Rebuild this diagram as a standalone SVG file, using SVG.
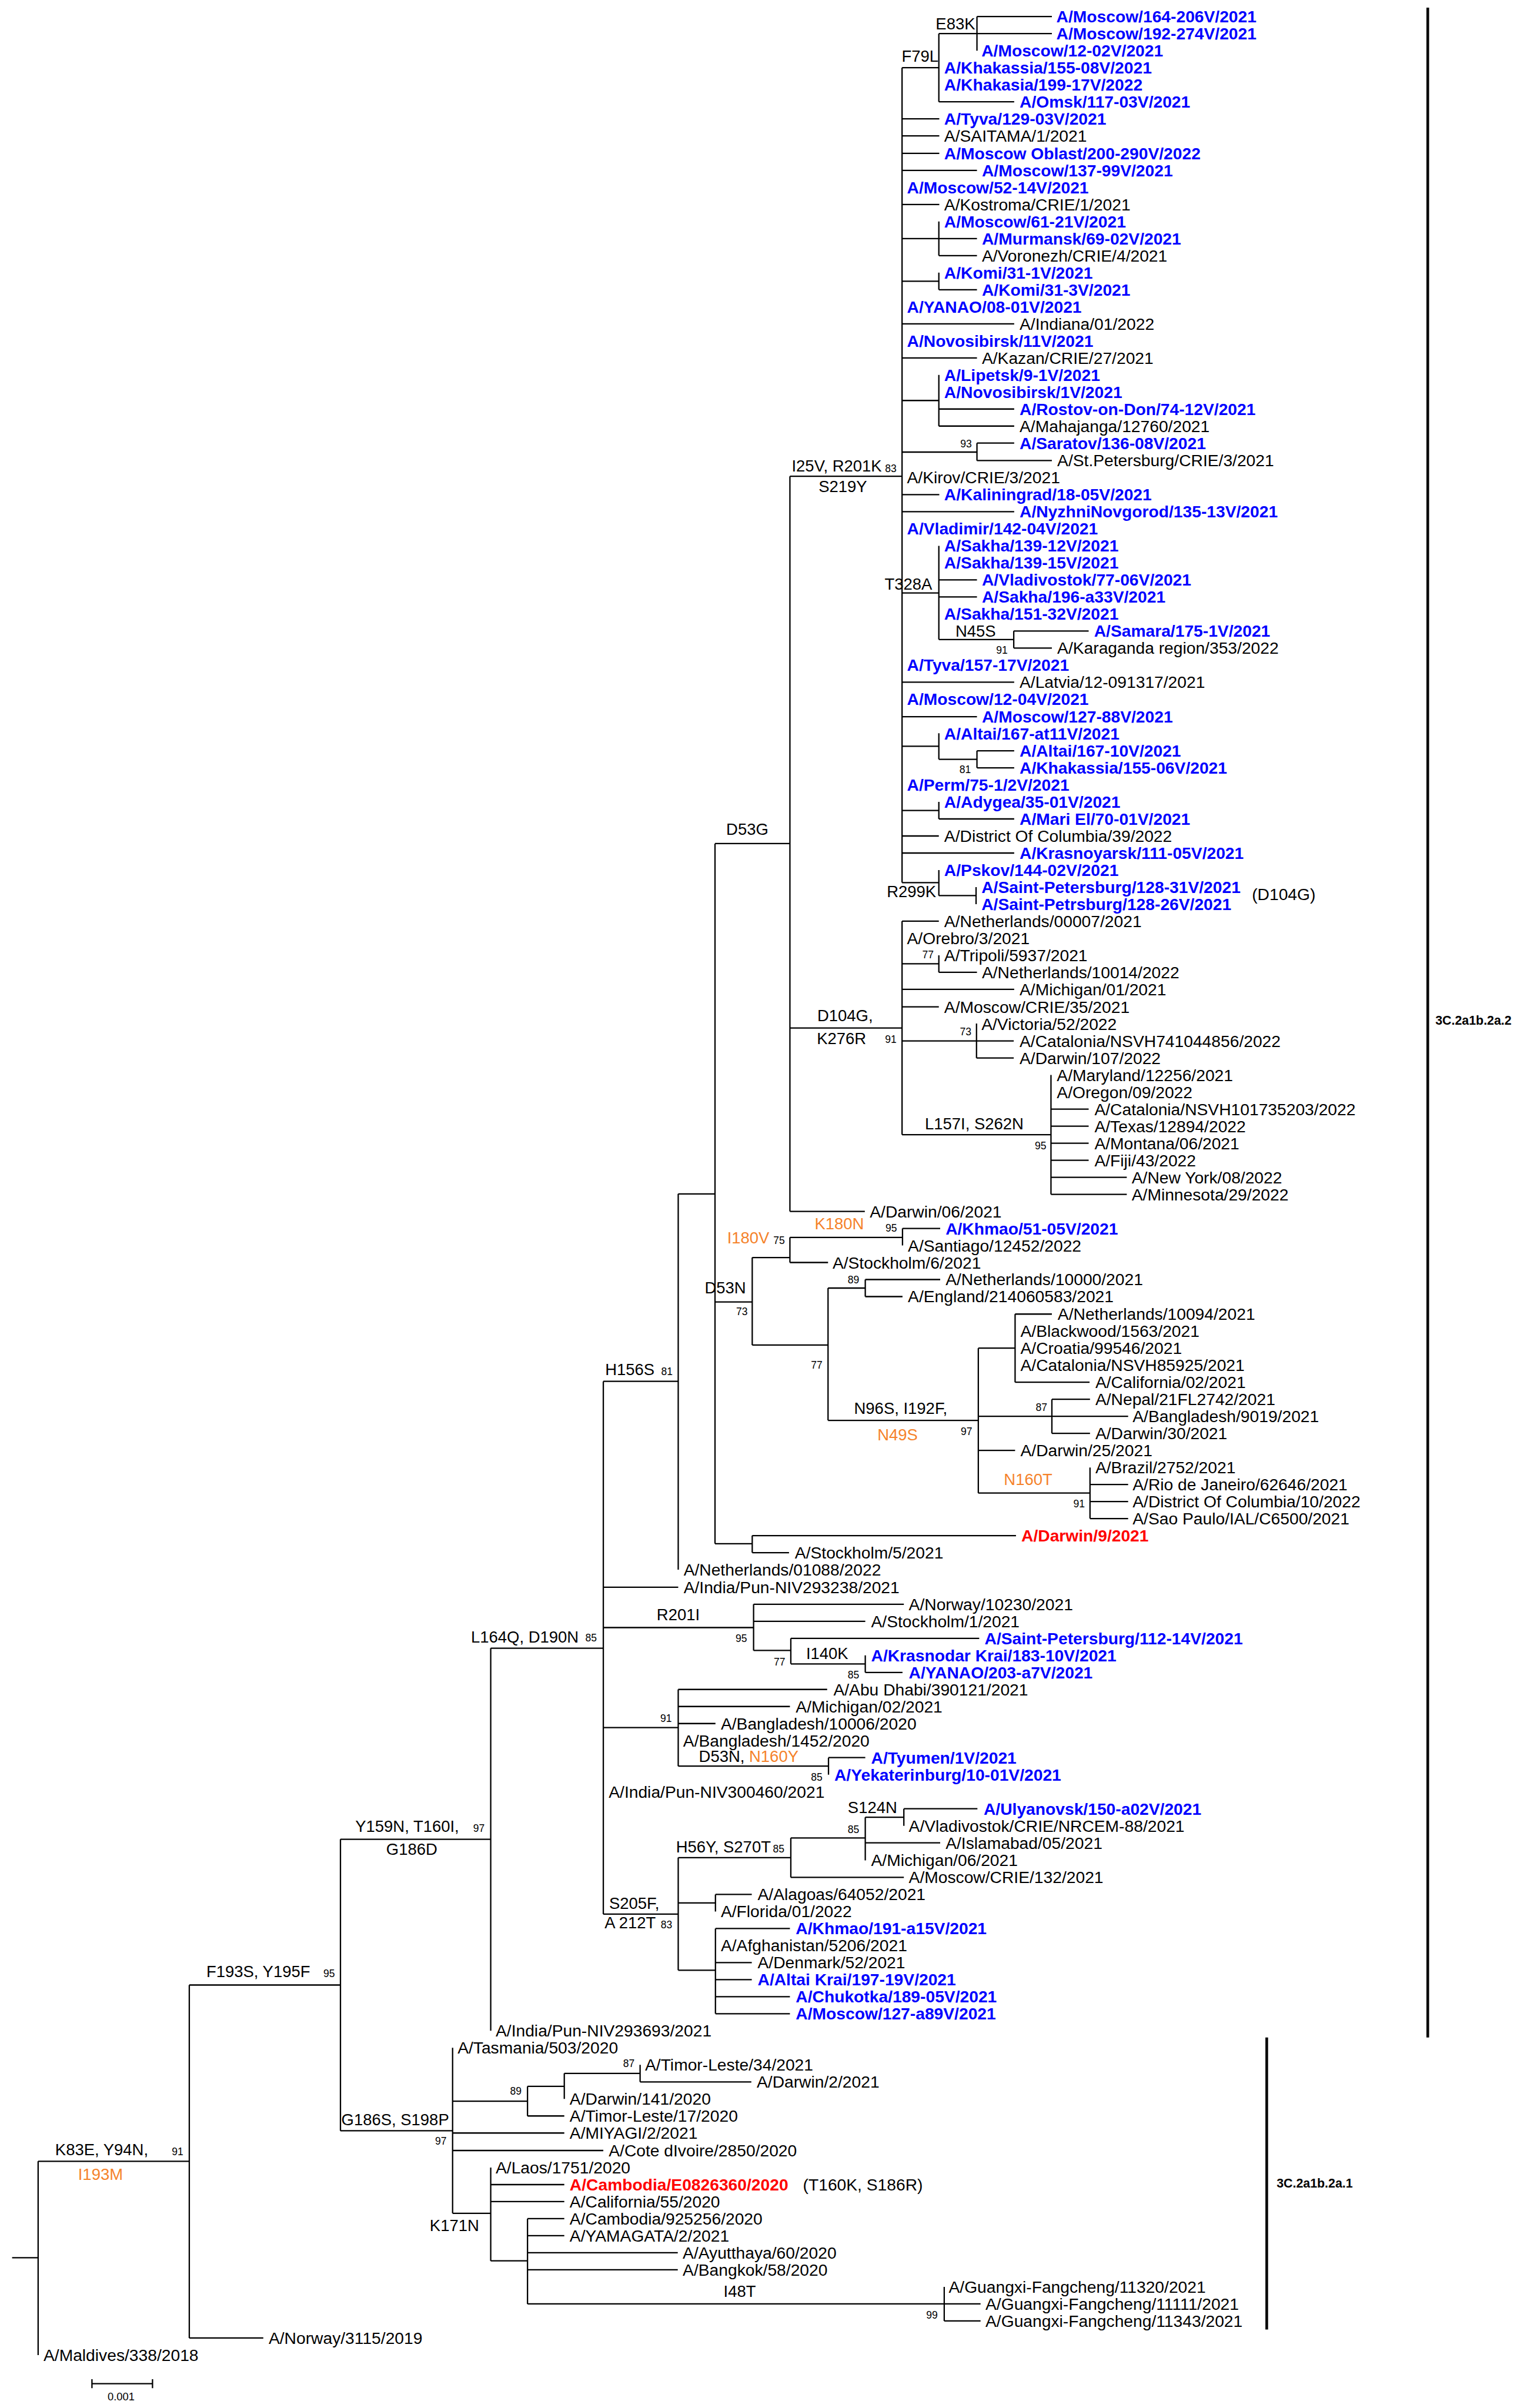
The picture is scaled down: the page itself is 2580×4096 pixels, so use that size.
<svg xmlns="http://www.w3.org/2000/svg" width="2580" height="4096" viewBox="0 0 2580 4096">
<style>
text{font-family:"Liberation Sans",Arial,sans-serif;fill:#000}
.l{font-size:37px;dominant-baseline:central}
.b{fill:#0000ff;font-weight:bold}
.r{fill:#ff0000;font-weight:bold}
.m{font-size:36px}
.o{fill:#f5822a}
.s{font-size:23px}
.c{font-size:28px;font-weight:bold;dominant-baseline:central}
.e{fill:none;stroke:#000;stroke-width:3}
.k{fill:none;stroke:#000;stroke-width:6}
</style>
<rect width="2580" height="4096" fill="#fff"/>
<g transform="scale(0.76288)">
<g id="connectors" class="e">
<path d="M27 5034H85M85 4819V5251M85 4819H422M422 4426V5213M422 4426H759M422 5213H587M759 4101V4751M759 4101H1094M759 4751H1009M1094 3675V4528M1094 3675H1345M1345 3080V4268M1345 3080H1512M1345 3539H1512M1345 3629H1680M1345 3852H1512M1345 4268H1512M1512 2662V3500M1512 2662H1594M1594 1881V3442M1594 1881H1761M1594 2903H1677M1594 3442H1677M1761 1062V2701M1761 1062H2011M1761 2292H2011M1761 2701H1928"/>
<path d="M2011 151V1968M2011 151H2093M2011 265H2094M2011 303H2094M2011 342H2094M2011 380H2178M2011 456H2094M2011 532H2093M2011 627H2093M2011 722H2261M2011 798H2178M2011 893H2093M2011 1008H2178M2011 1103H2094M2011 1141H2261M2011 1322H2093M2011 1521H2261M2011 1598H2178M2011 1664H2093M2011 1807H2093M2011 1864H2093M2011 1902H2261M2011 1968H2093M2093 75V227M2093 75H2178M2093 227H2261M2178 37V113M2178 37H2345M2178 75H2345M2093 494V570M2093 532H2178M2093 570H2178M2093 608V646M2093 646H2178M2093 836V950M2093 912H2261M2093 950H2261M2178 988V1027M2178 988H2261M2178 1027H2345M2093 1217V1426M2093 1293H2178M2093 1331H2178M2093 1426H2260M2260 1407V1445M2260 1407H2427M2260 1445H2345M2093 1635V1693M2093 1693H2178M2178 1674V1712M2178 1674H2261M2178 1712H2261M2093 1788V1826M2093 1826H2261M2093 1940V1997M2093 1997H2176M2176 1978V2016"/>
<path d="M2011 2054V2530M2011 2054H2093M2011 2149H2093M2011 2206H2261M2011 2245H2093M2011 2321H2260M2011 2530H2343M2093 2130V2168M2093 2168H2178M2177 2282V2359M2177 2359H2260M2343 2397V2663M2343 2473H2427M2343 2511H2427M2343 2549H2427M2343 2587H2427M2343 2625H2512M2343 2663H2512"/>
<path d="M1677 2804V2999M1677 2804H1761M1677 2999H1846M1761 2759V2815M1761 2759H2012M1761 2815H1846M2012 2739V2777M2012 2739H2096M1846 2872V3167M1846 2872H1929M1846 3167H2181M1929 2853V2891M1929 2853H2096M1929 2891H2012M2181 3006V3329M2181 3006H2263M2181 3158H2515M2181 3234H2263M2181 3329H2430M2263 2930V3082M2263 2930H2345M2263 3082H2429M2345 3120V3196M2345 3120H2430M2345 3196H2430M2430 3272V3386M2430 3310H2515M2430 3348H2515M2430 3386H2515M1677 3424V3462M1677 3424H2265M1677 3462H1759"/>
<path d="M1680 3577V3680M1680 3577H2015M1680 3615H1929M1680 3680H1763M1763 3653V3710M1763 3653H2183M1763 3710H1929M1929 3691V3729M1929 3729H2012M1512 3767V3938M1512 3767H1844M1512 3805H1761M1512 3843H1595M1512 3938H1847M1847 3919V3957M1847 3919H1929"/>
<path d="M1512 4142V4393M1512 4142H1763M1512 4243H1595M1512 4393H1595M1763 4098V4186M1763 4098H1929M1763 4186H2015M1929 4052V4148M1929 4052H2015M1929 4109H2096M2015 4033V4071M2015 4033H2179M1595 4224V4262M1595 4224H1676M1595 4300V4490M1595 4300H1761M1595 4376H1676M1595 4414H1676M1595 4452H1761M1595 4490H1761"/>
<path d="M1009 4566V4935M1009 4685H1176M1009 4756H1258M1009 4795H1345M1009 4935H1094M1176 4652V4718M1176 4652H1258M1176 4718H1258M1258 4623V4680M1258 4623H1427M1427 4604V4642M1427 4642H1675M1094 4833V5041M1094 4871H1258M1094 4909H1258M1094 5041H1176M1176 4947V5137M1176 4947H1258M1176 4985H1258M1176 5023H1511M1176 5061H1511M1176 5137H2105M2105 5099V5175M2105 5137H2186M2105 5175H2186"/>
</g>
<g id="mutations" class="m">
<text x="2086" y="66">E83K</text>
<text x="2010" y="138">F79L</text>
<text x="1765" y="1051">I25V, R201K</text>
<text x="1825" y="1097">S219Y</text>
<text x="1972" y="1315">T328A</text>
<text x="2130" y="1420">N45S</text>
<text x="1977" y="2000">R299K</text>
<text x="1619" y="1861">D53G</text>
<text x="1822" y="2277">D104G,</text>
<text x="1821" y="2328">K276R</text>
<text x="2062" y="2518">L157I, S262N</text>
<text x="1349" y="3066">H156S</text>
<text x="1571" y="2884">D53N</text>
<text class="o" x="1621" y="2772">I180V</text>
<text class="o" x="1816" y="2741">K180N</text>
<text x="1904" y="3153">N96S, I192F,</text>
<text class="o" x="1956" y="3211">N49S</text>
<text class="o" x="2238" y="3311">N160T</text>
<text x="1050" y="3662">L164Q, D190N</text>
<text x="1464" y="3612">R201I</text>
<text x="1797" y="3699">I140K</text>
<text x="1558" y="3928">D53N, <tspan class="o">N160Y</tspan></text>
<text x="1890" y="4042">S124N</text>
<text x="1507" y="4131">H56Y, S270T</text>
<text x="1358" y="4256">S205F,</text>
<text x="1348" y="4299">A 212T</text>
<text x="792" y="4084">Y159N, T160I,</text>
<text x="861" y="4135">G186D</text>
<text x="460" y="4408">F193S, Y195F</text>
<text x="123" y="4806">K83E, Y94N,</text>
<text class="o" x="174" y="4860">I193M</text>
<text x="761" y="4739">G186S, S198P</text>
<text x="958" y="4974">K171N</text>
<text x="1613" y="5122">I48T</text>
</g>
<g id="support" class="s">
<text x="1973" y="1052">83</text>
<text x="2141" y="997">93</text>
<text x="2221" y="1458">91</text>
<text x="2139" y="1724">81</text>
<text x="2056" y="2136">77</text>
<text x="2140" y="2308">73</text>
<text x="1973" y="2325">91</text>
<text x="2307" y="2563">95</text>
<text x="1474" y="3066">81</text>
<text x="1641" y="2932">73</text>
<text x="1724" y="2774">75</text>
<text x="1974" y="2746">95</text>
<text x="1890" y="2862">89</text>
<text x="1808" y="3052">77</text>
<text x="2142" y="3200">97</text>
<text x="2309" y="3146">87</text>
<text x="2393" y="3361">91</text>
<text x="1305" y="3660">85</text>
<text x="1640" y="3661">95</text>
<text x="1725" y="3713">77</text>
<text x="1890" y="3742">85</text>
<text x="1472" y="3839">91</text>
<text x="1808" y="3971">85</text>
<text x="1890" y="4087">85</text>
<text x="1723" y="4131">85</text>
<text x="1473" y="4300">83</text>
<text x="1055" y="4085">97</text>
<text x="721" y="4408">95</text>
<text x="383" y="4806">91</text>
<text x="970" y="4782">97</text>
<text x="1137" y="4671">89</text>
<text x="1389" y="4609">87</text>
<text x="2065" y="5170">99</text>
</g>
<g id="leaf1"><text class="l b" x="2355" y="37">A/Moscow/164-206V/2021</text></g>
<g id="leaf2"><text class="l b" x="2355" y="75">A/Moscow/192-274V/2021</text></g>
<g id="leaf3"><text class="l b" x="2188" y="113">A/Moscow/12-02V/2021</text></g>
<g id="leaf4"><text class="l b" x="2105" y="151">A/Khakassia/155-08V/2021</text></g>
<g id="leaf5"><text class="l b" x="2105" y="189">A/Khakasia/199-17V/2022</text></g>
<g id="leaf6"><text class="l b" x="2273" y="227">A/Omsk/117-03V/2021</text></g>
<g id="leaf7"><text class="l b" x="2105" y="265">A/Tyva/129-03V/2021</text></g>
<g id="leaf8"><text class="l" x="2105" y="303">A/SAITAMA/1/2021</text></g>
<g id="leaf9"><text class="l b" x="2105" y="342">A/Moscow Oblast/200-290V/2022</text></g>
<g id="leaf10"><text class="l b" x="2189" y="380">A/Moscow/137-99V/2021</text></g>
<g id="leaf11"><text class="l b" x="2022" y="418">A/Moscow/52-14V/2021</text></g>
<g id="leaf12"><text class="l" x="2105" y="456">A/Kostroma/CRIE/1/2021</text></g>
<g id="leaf13"><text class="l b" x="2105" y="494">A/Moscow/61-21V/2021</text></g>
<g id="leaf14"><text class="l b" x="2189" y="532">A/Murmansk/69-02V/2021</text></g>
<g id="leaf15"><text class="l" x="2189" y="570">A/Voronezh/CRIE/4/2021</text></g>
<g id="leaf16"><text class="l b" x="2105" y="608">A/Komi/31-1V/2021</text></g>
<g id="leaf17"><text class="l b" x="2189" y="646">A/Komi/31-3V/2021</text></g>
<g id="leaf18"><text class="l b" x="2022" y="684">A/YANAO/08-01V/2021</text></g>
<g id="leaf19"><text class="l" x="2273" y="722">A/Indiana/01/2022</text></g>
<g id="leaf20"><text class="l b" x="2022" y="760">A/Novosibirsk/11V/2021</text></g>
<g id="leaf21"><text class="l" x="2189" y="798">A/Kazan/CRIE/27/2021</text></g>
<g id="leaf22"><text class="l b" x="2105" y="836">A/Lipetsk/9-1V/2021</text></g>
<g id="leaf23"><text class="l b" x="2105" y="874">A/Novosibirsk/1V/2021</text></g>
<g id="leaf24"><text class="l b" x="2273" y="912">A/Rostov-on-Don/74-12V/2021</text></g>
<g id="leaf25"><text class="l" x="2273" y="950">A/Mahajanga/12760/2021</text></g>
<g id="leaf26"><text class="l b" x="2273" y="988">A/Saratov/136-08V/2021</text></g>
<g id="leaf27"><text class="l" x="2357" y="1027">A/St.Petersburg/CRIE/3/2021</text></g>
<g id="leaf28"><text class="l" x="2022" y="1065">A/Kirov/CRIE/3/2021</text></g>
<g id="leaf29"><text class="l b" x="2105" y="1103">A/Kaliningrad/18-05V/2021</text></g>
<g id="leaf30"><text class="l b" x="2273" y="1141">A/NyzhniNovgorod/135-13V/2021</text></g>
<g id="leaf31"><text class="l b" x="2022" y="1179">A/Vladimir/142-04V/2021</text></g>
<g id="leaf32"><text class="l b" x="2105" y="1217">A/Sakha/139-12V/2021</text></g>
<g id="leaf33"><text class="l b" x="2105" y="1255">A/Sakha/139-15V/2021</text></g>
<g id="leaf34"><text class="l b" x="2189" y="1293">A/Vladivostok/77-06V/2021</text></g>
<g id="leaf35"><text class="l b" x="2189" y="1331">A/Sakha/196-a33V/2021</text></g>
<g id="leaf36"><text class="l b" x="2105" y="1369">A/Sakha/151-32V/2021</text></g>
<g id="leaf37"><text class="l b" x="2439" y="1407">A/Samara/175-1V/2021</text></g>
<g id="leaf38"><text class="l" x="2357" y="1445">A/Karaganda region/353/2022</text></g>
<g id="leaf39"><text class="l b" x="2022" y="1483">A/Tyva/157-17V/2021</text></g>
<g id="leaf40"><text class="l" x="2273" y="1521">A/Latvia/12-091317/2021</text></g>
<g id="leaf41"><text class="l b" x="2022" y="1559">A/Moscow/12-04V/2021</text></g>
<g id="leaf42"><text class="l b" x="2189" y="1598">A/Moscow/127-88V/2021</text></g>
<g id="leaf43"><text class="l b" x="2105" y="1636">A/Altai/167-at11V/2021</text></g>
<g id="leaf44"><text class="l b" x="2273" y="1674">A/Altai/167-10V/2021</text></g>
<g id="leaf45"><text class="l b" x="2273" y="1712">A/Khakassia/155-06V/2021</text></g>
<g id="leaf46"><text class="l b" x="2022" y="1750">A/Perm/75-1/2V/2021</text></g>
<g id="leaf47"><text class="l b" x="2105" y="1788">A/Adygea/35-01V/2021</text></g>
<g id="leaf48"><text class="l b" x="2273" y="1826">A/Mari El/70-01V/2021</text></g>
<g id="leaf49"><text class="l" x="2105" y="1864">A/District Of Columbia/39/2022</text></g>
<g id="leaf50"><text class="l b" x="2273" y="1902">A/Krasnoyarsk/111-05V/2021</text></g>
<g id="leaf51"><text class="l b" x="2105" y="1940">A/Pskov/144-02V/2021</text></g>
<g id="leaf52"><text class="l b" x="2188" y="1978">A/Saint-Petersburg/128-31V/2021</text><text class="l" x="2791" y="1994">(D104G)</text></g>
<g id="leaf53"><text class="l b" x="2188" y="2016">A/Saint-Petrsburg/128-26V/2021</text></g>
<g id="leaf54"><text class="l" x="2105" y="2054">A/Netherlands/00007/2021</text></g>
<g id="leaf55"><text class="l" x="2022" y="2092">A/Orebro/3/2021</text></g>
<g id="leaf56"><text class="l" x="2105" y="2130">A/Tripoli/5937/2021</text></g>
<g id="leaf57"><text class="l" x="2189" y="2168">A/Netherlands/10014/2022</text></g>
<g id="leaf58"><text class="l" x="2273" y="2206">A/Michigan/01/2021</text></g>
<g id="leaf59"><text class="l" x="2105" y="2245">A/Moscow/CRIE/35/2021</text></g>
<g id="leaf60"><text class="l" x="2188" y="2283">A/Victoria/52/2022</text></g>
<g id="leaf61"><text class="l" x="2273" y="2321">A/Catalonia/NSVH741044856/2022</text></g>
<g id="leaf62"><text class="l" x="2273" y="2359">A/Darwin/107/2022</text></g>
<g id="leaf63"><text class="l" x="2356" y="2397">A/Maryland/12256/2021</text></g>
<g id="leaf64"><text class="l" x="2356" y="2435">A/Oregon/09/2022</text></g>
<g id="leaf65"><text class="l" x="2440" y="2473">A/Catalonia/NSVH101735203/2022</text></g>
<g id="leaf66"><text class="l" x="2440" y="2511">A/Texas/12894/2022</text></g>
<g id="leaf67"><text class="l" x="2440" y="2549">A/Montana/06/2021</text></g>
<g id="leaf68"><text class="l" x="2440" y="2587">A/Fiji/43/2022</text></g>
<g id="leaf69"><text class="l" x="2523" y="2625">A/New York/08/2022</text></g>
<g id="leaf70"><text class="l" x="2523" y="2663">A/Minnesota/29/2022</text></g>
<g id="leaf71"><text class="l" x="1939" y="2701">A/Darwin/06/2021</text></g>
<g id="leaf72"><text class="l b" x="2108" y="2739">A/Khmao/51-05V/2021</text></g>
<g id="leaf73"><text class="l" x="2024" y="2777">A/Santiago/12452/2022</text></g>
<g id="leaf74"><text class="l" x="1856" y="2815">A/Stockholm/6/2021</text></g>
<g id="leaf75"><text class="l" x="2108" y="2853">A/Netherlands/10000/2021</text></g>
<g id="leaf76"><text class="l" x="2024" y="2891">A/England/214060583/2021</text></g>
<g id="leaf77"><text class="l" x="2358" y="2930">A/Netherlands/10094/2021</text></g>
<g id="leaf78"><text class="l" x="2275" y="2968">A/Blackwood/1563/2021</text></g>
<g id="leaf79"><text class="l" x="2275" y="3006">A/Croatia/99546/2021</text></g>
<g id="leaf80"><text class="l" x="2275" y="3044">A/Catalonia/NSVH85925/2021</text></g>
<g id="leaf81"><text class="l" x="2442" y="3082">A/California/02/2021</text></g>
<g id="leaf82"><text class="l" x="2442" y="3120">A/Nepal/21FL2742/2021</text></g>
<g id="leaf83"><text class="l" x="2525" y="3158">A/Bangladesh/9019/2021</text></g>
<g id="leaf84"><text class="l" x="2442" y="3196">A/Darwin/30/2021</text></g>
<g id="leaf85"><text class="l" x="2275" y="3234">A/Darwin/25/2021</text></g>
<g id="leaf86"><text class="l" x="2442" y="3272">A/Brazil/2752/2021</text></g>
<g id="leaf87"><text class="l" x="2525" y="3310">A/Rio de Janeiro/62646/2021</text></g>
<g id="leaf88"><text class="l" x="2525" y="3348">A/District Of Columbia/10/2022</text></g>
<g id="leaf89"><text class="l" x="2525" y="3386">A/Sao Paulo/IAL/C6500/2021</text></g>
<g id="leaf90"><text class="l r" x="2277" y="3424">A/Darwin/9/2021</text></g>
<g id="leaf91"><text class="l" x="1772" y="3462">A/Stockholm/5/2021</text></g>
<g id="leaf92"><text class="l" x="1524" y="3500">A/Netherlands/01088/2022</text></g>
<g id="leaf93"><text class="l" x="1524" y="3539">A/India/Pun-NIV293238/2021</text></g>
<g id="leaf94"><text class="l" x="2026" y="3577">A/Norway/10230/2021</text></g>
<g id="leaf95"><text class="l" x="1942" y="3615">A/Stockholm/1/2021</text></g>
<g id="leaf96"><text class="l b" x="2195" y="3653">A/Saint-Petersburg/112-14V/2021</text></g>
<g id="leaf97"><text class="l b" x="1942" y="3691">A/Krasnodar Krai/183-10V/2021</text></g>
<g id="leaf98"><text class="l b" x="2026" y="3729">A/YANAO/203-a7V/2021</text></g>
<g id="leaf99"><text class="l" x="1858" y="3767">A/Abu Dhabi/390121/2021</text></g>
<g id="leaf100"><text class="l" x="1774" y="3805">A/Michigan/02/2021</text></g>
<g id="leaf101"><text class="l" x="1607" y="3843">A/Bangladesh/10006/2020</text></g>
<g id="leaf102"><text class="l" x="1523" y="3881">A/Bangladesh/1452/2020</text></g>
<g id="leaf103"><text class="l b" x="1942" y="3919">A/Tyumen/1V/2021</text></g>
<g id="leaf104"><text class="l b" x="1860" y="3957">A/Yekaterinburg/10-01V/2021</text></g>
<g id="leaf105"><text class="l" x="1357" y="3995">A/India/Pun-NIV300460/2021</text></g>
<g id="leaf106"><text class="l b" x="2193" y="4033">A/Ulyanovsk/150-a02V/2021</text></g>
<g id="leaf107"><text class="l" x="2026" y="4071">A/Vladivostok/CRIE/NRCEM-88/2021</text></g>
<g id="leaf108"><text class="l" x="2108" y="4109">A/Islamabad/05/2021</text></g>
<g id="leaf109"><text class="l" x="1942" y="4148">A/Michigan/06/2021</text></g>
<g id="leaf110"><text class="l" x="2026" y="4186">A/Moscow/CRIE/132/2021</text></g>
<g id="leaf111"><text class="l" x="1689" y="4224">A/Alagoas/64052/2021</text></g>
<g id="leaf112"><text class="l" x="1607" y="4262">A/Florida/01/2022</text></g>
<g id="leaf113"><text class="l b" x="1774" y="4300">A/Khmao/191-a15V/2021</text></g>
<g id="leaf114"><text class="l" x="1607" y="4338">A/Afghanistan/5206/2021</text></g>
<g id="leaf115"><text class="l" x="1689" y="4376">A/Denmark/52/2021</text></g>
<g id="leaf116"><text class="l b" x="1689" y="4414">A/Altai Krai/197-19V/2021</text></g>
<g id="leaf117"><text class="l b" x="1774" y="4452">A/Chukotka/189-05V/2021</text></g>
<g id="leaf118"><text class="l b" x="1774" y="4490">A/Moscow/127-a89V/2021</text></g>
<g id="leaf119"><text class="l" x="1105" y="4528">A/India/Pun-NIV293693/2021</text></g>
<g id="leaf120"><text class="l" x="1020" y="4566">A/Tasmania/503/2020</text></g>
<g id="leaf121"><text class="l" x="1438" y="4604">A/Timor-Leste/34/2021</text></g>
<g id="leaf122"><text class="l" x="1687" y="4642">A/Darwin/2/2021</text></g>
<g id="leaf123"><text class="l" x="1270" y="4680">A/Darwin/141/2020</text></g>
<g id="leaf124"><text class="l" x="1270" y="4718">A/Timor-Leste/17/2020</text></g>
<g id="leaf125"><text class="l" x="1270" y="4756">A/MIYAGI/2/2021</text></g>
<g id="leaf126"><text class="l" x="1357" y="4795">A/Cote dIvoire/2850/2020</text></g>
<g id="leaf127"><text class="l" x="1105" y="4833">A/Laos/1751/2020</text></g>
<g id="leaf128"><text class="l r" x="1270" y="4871">A/Cambodia/E0826360/2020</text><text class="l" x="1790" y="4871">(T160K, S186R)</text></g>
<g id="leaf129"><text class="l" x="1270" y="4909">A/California/55/2020</text></g>
<g id="leaf130"><text class="l" x="1270" y="4947">A/Cambodia/925256/2020</text></g>
<g id="leaf131"><text class="l" x="1270" y="4985">A/YAMAGATA/2/2021</text></g>
<g id="leaf132"><text class="l" x="1522" y="5023">A/Ayutthaya/60/2020</text></g>
<g id="leaf133"><text class="l" x="1522" y="5061">A/Bangkok/58/2020</text></g>
<g id="leaf134"><text class="l" x="2115" y="5099">A/Guangxi-Fangcheng/11320/2021</text></g>
<g id="leaf135"><text class="l" x="2197" y="5137">A/Guangxi-Fangcheng/11111/2021</text></g>
<g id="leaf136"><text class="l" x="2197" y="5175">A/Guangxi-Fangcheng/11343/2021</text></g>
<g id="leaf137"><text class="l" x="599" y="5213">A/Norway/3115/2019</text></g>
<g id="leaf138"><text class="l" x="97" y="5251">A/Maldives/338/2018</text></g>
<g id="clade-2a2"><path class="k" d="M3183 17V4543"/><text class="c" x="3200" y="2276">3C.2a1b.2a.2</text></g>
<g id="clade-2a1"><path class="k" d="M2824 4543V5194"/><text class="c" x="2846" y="4869">3C.2a1b.2a.1</text></g>
<g id="scalebar"><path class="e" d="M205 5315H340M205 5305V5325M340 5305V5325"/><text x="240" y="5352" font-size="24">0.001</text></g>
</g>
</svg>
